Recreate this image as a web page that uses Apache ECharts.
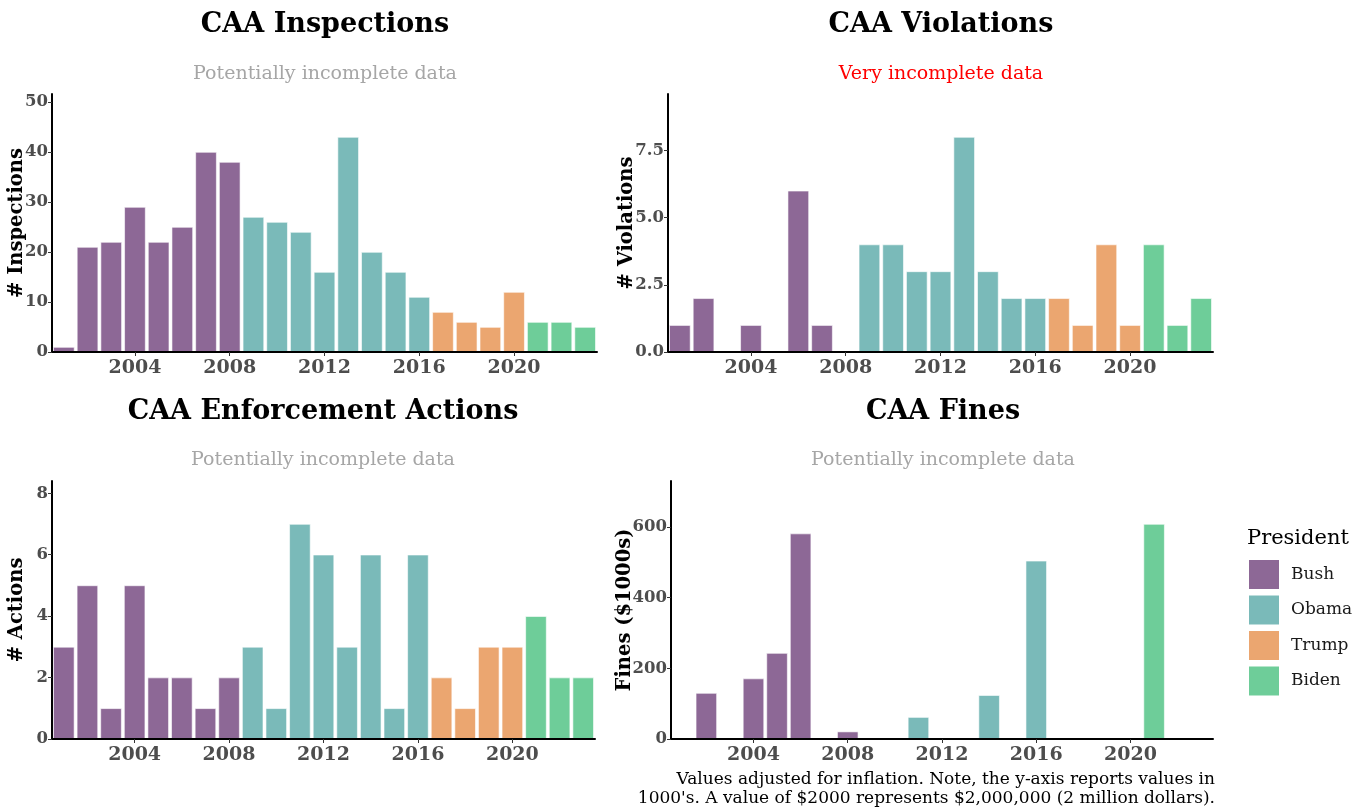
<!DOCTYPE html>
<html>
<head>
<meta charset="utf-8">
<script src="https://cdn.jsdelivr.net/npm/echarts@6/dist/echarts.min.js"></script>
<style>html,body{margin:0;padding:0;background:#fff}#c{width:1364px;height:808px}</style>
</head>
<body>
<div id="c"></div>
<script>
const years = ['2001','2002','2003','2004','2005','2006','2007','2008','2009','2010','2011','2012','2013','2014','2015','2016','2017','2018','2019','2020','2021','2022','2023'];
const presidentByYear = ['Bush','Bush','Bush','Bush','Bush','Bush','Bush','Bush','Obama','Obama','Obama','Obama','Obama','Obama','Obama','Obama','Trump','Trump','Trump','Trump','Biden','Biden','Biden'];
const presidents = ['Bush','Obama','Trump','Biden'];
const presColors = ['#8d6896','#7abab9','#eba670','#6ecd99'];

const inspections = [1,21,22,29,22,25,40,38,27,26,24,16,43,20,16,11,8,6,5,12,6,6,5];
const violations = [1,2,0,1,0,6,1,0,4,4,3,3,8,3,2,2,2,1,4,1,4,1,2];
const actions = [3,5,1,5,2,2,1,2,3,1,7,6,3,6,1,6,2,1,3,3,4,2,2];
const fines = [0,130,0,171,243,581,0,21,0,0,62,0,0,124,0,504,0,0,0,0,608,0,0];

const xTickYears = ['2004','2008','2012','2016','2020'];
const yIntervals = [10, 2.5, 2, 200];

const panels = [
  {title:'CAA Inspections', sub:'Potentially incomplete data', subColor:'#a6a6a6', yName:'# Inspections', data:inspections, cx:325, ty:11, sy:65, grid:{left:52, top:94, width:545, height:258}, nameGap:25, dec:0},
  {title:'CAA Violations', sub:'Very incomplete data', subColor:'#ff0000', yName:'# Violations', data:violations, cx:941, ty:11, sy:65, grid:{left:668, top:94, width:545, height:258}, nameGap:31, dec:1},
  {title:'CAA Enforcement Actions', sub:'Potentially incomplete data', subColor:'#a6a6a6', yName:'# Actions', data:actions, cx:323, ty:398, sy:451, grid:{left:52, top:481, width:543, height:258}, nameGap:25, dec:0},
  {title:'CAA Fines', sub:'Potentially incomplete data', subColor:'#a6a6a6', yName:'Fines ($1000s)', data:fines, cx:943, ty:398, sy:451, grid:{left:671, top:481, width:542, height:258}, nameGap:36, dec:0}
];

const FONT = '"DejaVu Serif", serif';
const titles = [], grids = [], xAxes = [], yAxes = [], series = [];
panels.forEach((p, k) => {
  titles.push({text:p.title, left:p.cx, top:p.ty, textAlign:'center', padding:0,
    textStyle:{fontFamily:FONT, fontWeight:'bold', fontSize:27, color:'#000'}});
  titles.push({text:p.sub, left:p.cx, top:p.sy, textAlign:'center', padding:0,
    textStyle:{fontFamily:FONT, fontWeight:'normal', fontSize:19, color:p.subColor}});
  grids.push(Object.assign({containLabel:false}, p.grid));
  xAxes.push({type:'category', gridIndex:k, data:years, boundaryGap:true, z:10,
    axisLine:{lineStyle:{color:'#000', width:2}},
    axisTick:{show:true, alignWithLabel:true, length:4, lineStyle:{color:'#333'}, interval:(i,v)=>xTickYears.includes(v)},
    axisLabel:{interval:(i,v)=>xTickYears.includes(v), fontFamily:FONT, fontWeight:'bold', fontSize:19, color:'#4d4d4d', margin:7}
  });
  const ymax = Math.max(...p.data) * 1.2;
  yAxes.push({type:'value', gridIndex:k, min:0, max:ymax, interval:yIntervals[k], z:10,
    name:p.yName, nameLocation:'middle', nameGap:p.nameGap, nameMoveOverlap:false,
    nameTextStyle:{fontFamily:FONT, fontWeight:'bold', fontSize:19.5, color:'#000'},
    splitLine:{show:false},
    axisLine:{show:true, lineStyle:{color:'#000', width:2}},
    axisTick:{show:true, length:4, lineStyle:{color:'#333'}},
    axisLabel:{showMaxLabel:false, fontFamily:FONT, fontWeight:'bold', fontSize:16.5, color:'#4d4d4d', margin:4,
      formatter:(v)=> v.toFixed(p.dec)}
  });
  presidents.forEach((name, j) => {
    series.push({type:'bar', name:name, xAxisIndex:k, yAxisIndex:k, stack:'s'+k, z:1,
      barCategoryGap:'10%',
      itemStyle:{color:presColors[j], borderColor:'#ffffff', borderWidth:0.6},
      data:p.data.map((v,i)=> (presidentByYear[i]===name && v>0) ? v : null)
    });
  });
});
titles.push({text:'President', left:1247, top:528, padding:0, textStyle:{fontFamily:FONT, fontWeight:'normal', fontSize:21, color:'#000'}});

const chart = echarts.init(document.getElementById('c'), null, {renderer:'canvas'});
chart.setOption({
  animation:false,
  backgroundColor:'#fff',
  title:titles,
  grid:grids, xAxis:xAxes, yAxis:yAxes, series:series,
  legend:{data:presidents, orient:'vertical', left:1247, top:558, padding:0, itemWidth:32, itemHeight:31, itemGap:2.5,
    icon:'rect', selectedMode:false,
    textStyle:{fontFamily:FONT, fontSize:17, color:'#1a1a1a', padding:[0,0,0,6]}},
  graphic:[{type:'text', x:1215, y:770,
    style:{text:"Values adjusted for inflation. Note, the y-axis reports values in\n1000's. A value of $2000 represents $2,000,000 (2 million dollars).",
      align:'right', verticalAlign:'top', font:'17px "DejaVu Serif", serif', fill:'#000', lineHeight:19}}]
});
</script>
</body>
</html>
